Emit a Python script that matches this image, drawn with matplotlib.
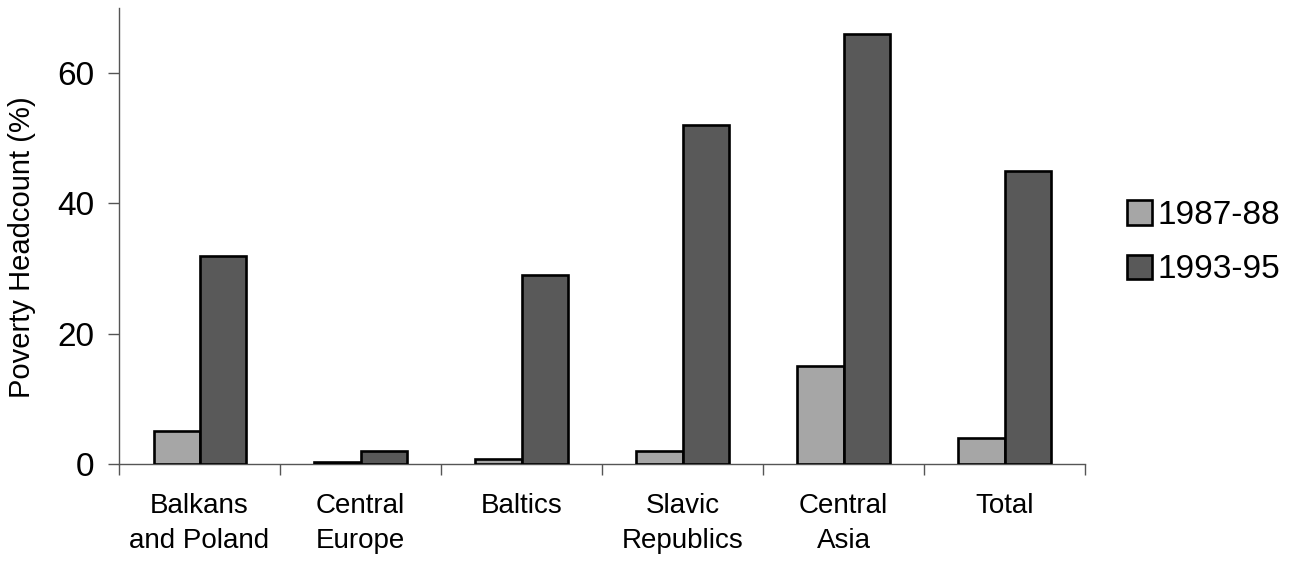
"""
Poverty headcount by region, 1987-88 vs 1993-95 (grouped bars).
"""
import numpy as np
import matplotlib
matplotlib.use("Agg")
import matplotlib.pyplot as plt

CATEGORIES = ["Balkans\nand Poland", "Central\nEurope", "Baltics",
              "Slavic\nRepublics", "Central\nAsia", "Total"]
SERIES = ["1987-88", "1993-95"]
VALS_8788 = [5, 0.3, 0.8, 2, 15, 4]
VALS_9395 = [32, 2, 29, 52, 66, 45]
Y_TICKS = [0, 20, 40, 60]

COLORS = {"1987-88": "#a6a6a6", "1993-95": "#595959"}

plt.rcParams["font.family"] = ["Liberation Sans", "DejaVu Sans"]

fig = plt.figure(figsize=(12.94, 5.62), dpi=100)
ax = fig.add_axes([0.092, 0.1744, 0.7465, 0.8114])

x = np.arange(len(CATEGORIES))
bar_w = 0.286

for i, (name, vals) in enumerate(zip(SERIES, [VALS_8788, VALS_9395])):
    ax.bar(x + (i - 0.5) * bar_w, vals, width=bar_w, color=COLORS[name],
           edgecolor="black", linewidth=1.9, label=name, zorder=3)

# ── axes styling ───────────────────────────────────────────────────────────
ax.set_xlim(-0.5, len(CATEGORIES) - 0.5)
ax.set_ylim(0, 70)
ax.set_yticks(Y_TICKS)
ax.tick_params(axis="y", labelsize=24, length=8, width=1, color="#555555", pad=10)
ax.set_xticks(np.arange(len(CATEGORIES) + 1) - 0.5)
ax.set_xticklabels([])
ax.set_xticks(x, minor=True)
ax.set_xticklabels(CATEGORIES, minor=True, fontsize=20, linespacing=1.45)
ax.tick_params(axis="x", which="major", length=8, width=1, color="#555555")
ax.tick_params(axis="x", which="minor", length=0, pad=21)
for lbl in ax.get_xticklabels(minor=True):
    lbl.set_verticalalignment("top")

ax.set_ylabel("Poverty Headcount (%)", fontsize=21, va="center")
ax.yaxis.set_label_coords(-0.1, 0.475)
ax.spines[["top", "right"]].set_visible(False)
for s in ["left", "bottom"]:
    ax.spines[s].set_color("#555555")
    ax.spines[s].set_linewidth(1)

ax.legend(loc="center left", bbox_to_anchor=(1.03, 0.485), frameon=False,
          fontsize=24, handlelength=0.75, handleheight=0.75, handletextpad=0.15,
          labelspacing=0.7, borderaxespad=0)

plt.savefig("out.png", dpi=100)
